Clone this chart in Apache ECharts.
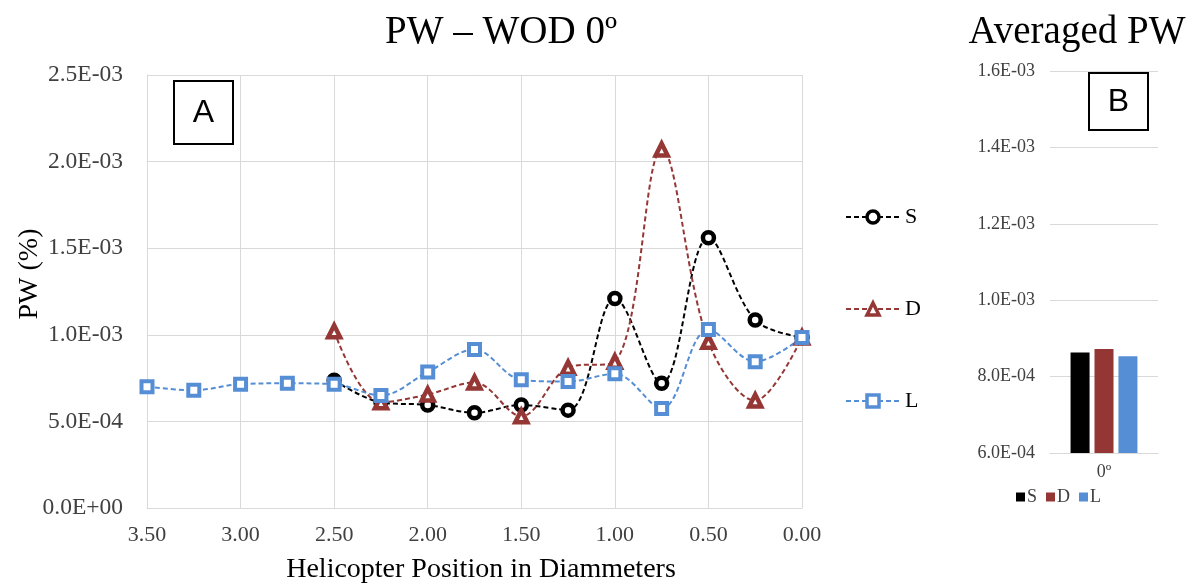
<!DOCTYPE html>
<html>
<head>
<meta charset="utf-8">
<script src="https://cdn.jsdelivr.net/npm/echarts@6/dist/echarts.min.js"></script>
<style>
  html, body { margin: 0; padding: 0; background: #fff; }
  #wrap { position: relative; width: 1188px; height: 586px; }
  #lineChart { position: absolute; left: 0; top: 0; width: 940px; height: 586px; }
  #barChart { position: absolute; left: 940px; top: 0; width: 248px; height: 586px; }
</style>
</head>
<body>
<div id="wrap">
  <div id="lineChart"></div>
  <div id="barChart"></div>
</div>
<script>
// Helicopter positions (in rotor diameters) and PW values per configuration
const positions = [3.50, 3.25, 3.00, 2.75, 2.50, 2.25, 2.00, 1.75, 1.50, 1.25, 1.00, 0.75, 0.50, 0.25, 0.00];
const pwS = [null, null, null, null, 7.37e-4, 6.10e-4, 5.95e-4, 5.50e-4, 5.95e-4, 5.65e-4, 1.21e-3, 7.20e-4, 1.56e-3, 1.085e-3, 9.85e-4];
const pwD = [null, null, null, null, 1.02e-3, 6.10e-4, 6.55e-4, 7.25e-4, 5.30e-4, 8.10e-4, 8.45e-4, 2.07e-3, 9.60e-4, 6.20e-4, 9.85e-4];
const pwL = [7.00e-4, 6.80e-4, 7.15e-4, 7.20e-4, 7.15e-4, 6.50e-4, 7.85e-4, 9.15e-4, 7.40e-4, 7.30e-4, 7.75e-4, 5.75e-4, 1.03e-3, 8.45e-4, 9.85e-4];

// Averaged PW per configuration
const avgCategories = ['0º'];
const avgS = [8.63e-4];
const avgD = [8.72e-4];
const avgL = [8.53e-4];

const seriesNames = ['S', 'D', 'L'];
const colS = '#000000', colD = '#953735', colL = '#558ED5';
const serif = '"Liberation Serif", "Times New Roman", serif';
const sans = '"Liberation Sans", Arial, sans-serif';
const gridCol = '#d9d9d9';
const tickCol = '#404040';

// Excel-like scientific notation: 2.5E-03
function sci(v) {
  if (Math.abs(v) < 1e-15) return '0.0E+00';
  let e = Math.floor(Math.log10(Math.abs(v)) + 1e-9);
  let ms = (v / Math.pow(10, e)).toFixed(1);
  if (ms === '10.0') { e += 1; ms = (v / Math.pow(10, e)).toFixed(1); }
  return ms + 'E' + (e < 0 ? '-' : '+') + String(Math.abs(e)).padStart(2, '0');
}

function pairs(vals) {
  const out = [];
  vals.forEach((v, i) => { if (v !== null) out.push([positions[i], v]); });
  return out;
}

function lineSeries(name, vals, color, symbol, size, bw) {
  return {
    name: name,
    type: 'line',
    data: pairs(vals),
    smooth: 0.35,
    symbol: symbol,
    symbolSize: size,
    showAllSymbol: true,
    lineStyle: { color: color, width: 2, type: [5, 3] },
    itemStyle: { color: '#ffffff', borderColor: color, borderWidth: bw },
    emphasis: { disabled: true },
    z: 2
  };
}

const lineChart = echarts.init(document.getElementById('lineChart'));
lineChart.setOption({
  animation: false,
  title: {
    text: 'PW – WOD 0º',
    left: 496,
    top: 8,
    textAlign: 'center',
    textStyle: { fontFamily: serif, fontSize: 39, fontWeight: 'normal', color: '#000' }
  },
  grid: { left: 147, right: 138, top: 75, bottom: 78, outerBoundsMode: 'none' },
  legend: {
    data: seriesNames,
    orient: 'vertical',
    left: 840,
    top: 201,
    itemGap: 70,
    itemWidth: 54,
    itemHeight: 15,
    selectedMode: false,
    itemStyle: { borderWidth: 3.5 },
    textStyle: { fontFamily: serif, fontSize: 22, color: '#000' }
  },
  xAxis: {
    type: 'value',
    min: 0,
    max: 3.5,
    interval: 0.5,
    inverse: true,
    name: 'Helicopter Position in Diammeters',
    nameLocation: 'middle',
    nameGap: 48,
    nameTextStyle: { fontFamily: serif, fontSize: 28, color: '#000', padding: [0, 0, 0, 13] },
    axisLine: { onZero: false, lineStyle: { color: gridCol, width: 1 } },
    axisTick: { show: false },
    axisLabel: { fontFamily: serif, fontSize: 22, color: tickCol, margin: 16, formatter: v => v.toFixed(2) },
    splitLine: { show: true, lineStyle: { color: gridCol, width: 1 } }
  },
  yAxis: {
    type: 'value',
    min: 0,
    max: 0.0025,
    interval: 0.0005,
    axisLine: { show: true, onZero: false, lineStyle: { color: gridCol, width: 1 } },
    axisTick: { show: false },
    axisLabel: { fontFamily: serif, fontSize: 23.5, color: tickCol, margin: 24, formatter: sci },
    splitLine: { show: true, lineStyle: { color: gridCol, width: 1 } }
  },
  graphic: [
    {
      type: 'text',
      x: 30,
      y: 274,
      rotation: Math.PI / 2,
      style: { text: 'PW (%)', fontFamily: serif, fontSize: 28, fill: '#000', align: 'center', verticalAlign: 'middle' }
    },
    {
      type: 'group',
      left: 173,
      top: 80,
      children: [
        { type: 'rect', shape: { x: 0, y: 0, width: 59, height: 63 }, style: { fill: '#fff', stroke: '#000', lineWidth: 2 } },
        { type: 'text', x: 29.5, y: 32, style: { text: 'A', fontFamily: sans, fontSize: 32, fill: '#000', align: 'center', verticalAlign: 'middle' } }
      ]
    }
  ],
  series: [
    lineSeries('S', pwS, colS, 'circle', 11, 4.5),
    lineSeries('D', pwD, colD, 'triangle', 12, 4.5),
    lineSeries('L', pwL, colL, 'rect', 11, 4)
  ]
});

const barChart = echarts.init(document.getElementById('barChart'));
function barSeries(name, vals, color) {
  return {
    name: name,
    type: 'bar',
    data: vals,
    barWidth: 19,
    barGap: '26%',
    itemStyle: { color: color },
    emphasis: { disabled: true }
  };
}
barChart.setOption({
  animation: false,
  title: {
    text: 'Averaged PW',
    left: 132,
    top: 8,
    textAlign: 'center',
    textStyle: { fontFamily: serif, fontSize: 39, fontWeight: 'normal', color: '#000' }
  },
  grid: { left: 110, right: 30, top: 71, bottom: 133, outerBoundsMode: 'none' },
  legend: {
    data: seriesNames,
    left: 71,
    top: 483,
    itemGap: 9,
    itemWidth: 9,
    itemHeight: 9,
    icon: 'rect',
    selectedMode: false,
    textStyle: { fontFamily: serif, fontSize: 18, color: tickCol, padding: [0, 0, 0, -3] }
  },
  xAxis: {
    type: 'category',
    data: avgCategories,
    axisLine: { lineStyle: { color: gridCol, width: 1 } },
    axisTick: { show: false },
    axisLabel: { fontFamily: serif, fontSize: 18, color: tickCol, margin: 10 }
  },
  yAxis: {
    type: 'value',
    min: 0.0006,
    max: 0.0016,
    interval: 0.0002,
    axisLine: { show: false },
    axisTick: { show: false },
    axisLabel: { fontFamily: serif, fontSize: 18, color: tickCol, margin: 15, formatter: sci },
    splitLine: { show: true, lineStyle: { color: gridCol, width: 1 } }
  },
  graphic: [{
    type: 'group',
    left: 148,
    top: 72,
    children: [
      { type: 'rect', shape: { x: 0, y: 0, width: 59, height: 57 }, style: { fill: '#fff', stroke: '#000', lineWidth: 2 } },
      { type: 'text', x: 29.5, y: 29, style: { text: 'B', fontFamily: sans, fontSize: 32, fill: '#000', align: 'center', verticalAlign: 'middle' } }
    ]
  }],
  series: [
    barSeries('S', avgS, '#000000'),
    barSeries('D', avgD, '#943634'),
    barSeries('L', avgL, '#558ED5')
  ]
});
</script>
</body>
</html>
